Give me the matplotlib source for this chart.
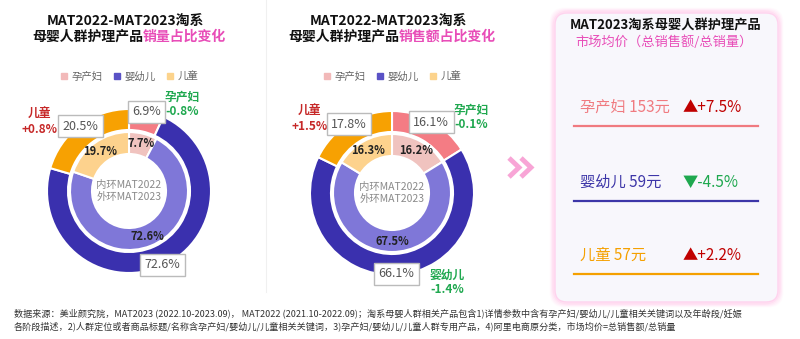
import numpy as np
import matplotlib
matplotlib.use("Agg")
import matplotlib.pyplot as plt
from matplotlib.patches import FancyBboxPatch
from matplotlib.lines import Line2D

plt.rcParams['font.family'] = ['Noto Sans CJK SC', 'DejaVu Sans']

# ---- data ----
segments = ["孕产妇", "婴幼儿", "儿童"]
vol_2022 = [7.7, 72.6, 19.7]     # inner ring, 销量占比
vol_2023 = [6.9, 72.6, 20.5]     # outer ring
vol_change = ["-0.8%", None, "+0.8%"]
amt_2022 = [16.2, 67.5, 16.3]    # inner ring, 销售额占比
amt_2023 = [16.1, 66.1, 17.8]    # outer ring
amt_change = ["-0.1%", "-1.4%", "+1.5%"]
avg_price = [153, 59, 57]        # 元
price_change = [7.5, -4.5, 2.2]  # %

# ---- colours ----
outer_colors = ["#F47C84", "#3A30AE", "#F7A102"]
inner_colors = ["#F0C3BF", "#7F77D8", "#FDD28D"]
legend_colors = ["#F2B9B9", "#5A52C6", "#FCD38C"]
row_colors = ["#F07A80", "#3D36A8", "#F5A000"]
PINK = "#E84DB8"
RED = "#C62828"
GREEN = "#1FA84F"

W, H = 800, 339
fig = plt.figure(figsize=(W / 100, H / 100), dpi=100)
fig.patch.set_facecolor("white")

# overlay axes in pixel units (y down)
lay = fig.add_axes([0, 0, 1, 1])
lay.set_xlim(0, W)
lay.set_ylim(H, 0)
lay.axis("off")
renderer = fig.canvas.get_renderer()


def centered_parts(x, y, parts, **kw):
    texts = [lay.text(0, y, s, color=c, ha="left", va="center", **kw) for s, c in parts]
    widths = [t.get_window_extent(renderer).width for t in texts]
    x0 = x - sum(widths) / 2
    for t, w in zip(texts, widths):
        t.set_x(x0)
        x0 += w


def donut(cx, cy, inner, outer, changes, change_pos, title_pink):
    half = 115
    ax = fig.add_axes([(cx - half) / W, (H - cy - half) / H, 2 * half / W, 2 * half / H])
    wo, _ = ax.pie(outer, radius=82, colors=outer_colors, startangle=90, counterclock=False,
                   wedgeprops=dict(width=21, edgecolor="white", linewidth=1.5))
    wi, _ = ax.pie(inner, radius=59, colors=inner_colors, startangle=90, counterclock=False,
                   wedgeprops=dict(width=22, edgecolor="white", linewidth=1.5))
    ax.set_xlim(-half, half)
    ax.set_ylim(-half, half)
    ax.set_aspect("equal")
    ax.axis("off")

    for w, v in zip(wo, outer):
        a = np.deg2rad((w.theta1 + w.theta2) / 2)
        ax.text(81 * np.cos(a), 81 * np.sin(a), f"{v}%", ha="center", va="center",
                fontsize=9, color="#555555", zorder=5,
                bbox=dict(boxstyle="square,pad=0.35", fc="white", ec="#BBBBBB", lw=1))
    for w, v in zip(wi, inner):
        a = np.deg2rad((w.theta1 + w.theta2) / 2)
        ax.text(49 * np.cos(a), 49 * np.sin(a), f"{v}%", ha="center", va="center",
                fontsize=8, fontweight="bold", color="#222222")

    ax.text(0, 0, "内环MAT2022\n外环MAT2023", ha="center", va="center",
            fontsize=7.5, color="#8A8A8A", linespacing=1.25)

    for name, ch, pos in zip(segments, changes, change_pos):
        if ch is None:
            continue
        col = RED if ch.startswith("+") else GREEN
        ax.text(pos[0], pos[1], f"{name}\n{ch}", ha="center", va="center",
                fontsize=8.5, fontweight="bold", color=col, linespacing=1.15)

    # titles
    centered_parts(cx - 4, 22, [("MAT2022-MAT2023淘系", "#111111")], fontsize=10, fontweight="bold")
    centered_parts(cx, 37, [("母婴人群护理产品", "#111111"), (title_pink, PINK)],
                   fontsize=10, fontweight="bold")

    handles = [Line2D([], [], marker="s", ls="none", markersize=4, color=c) for c in legend_colors]
    ax.legend(handles, segments, loc="center", bbox_to_anchor=(cx / W, 1 - 77 / H),
              bbox_transform=fig.transFigure, ncol=3, frameon=False, fontsize=7.5,
              labelcolor="#666666", handletextpad=0.3, columnspacing=1.0, handlelength=0.8)


donut(129, 191, vol_2022, vol_2023, vol_change,
      [(53, 87), None, (-90, 69)], "销量占比变化")
donut(392, 193, amt_2022, amt_2023, amt_change,
      [(79, 76), (55, -89), (-82, 74)], "销售额占比变化")

# divider between the two donuts
lay.plot([266, 266], [0, 292], color="#F0F0F0", lw=0.8)

# chevrons
for x0 in (509, 521):
    lay.plot([x0, x0 + 10, x0], [158, 167.5, 177], color="#F8A5D6", lw=3.5,
             solid_capstyle="butt", solid_joinstyle="miter")

# price panel with soft pink glow
bx, by, bw, bh = 555, 13, 223, 289
for i, a in enumerate([0.05, 0.08, 0.12, 0.2]):
    g = 4 - i
    lay.add_patch(FancyBboxPatch((bx - g, by - g), bw + 2 * g, bh + 2 * g,
                                 boxstyle="round,pad=0,rounding_size=14",
                                 fc="none", ec="#FF9AD8", lw=2, alpha=a))
lay.add_patch(FancyBboxPatch((bx, by), bw, bh, boxstyle="round,pad=0,rounding_size=12",
                             fc="#F8F7FC", ec="#FFD3EE", lw=1))

centered_parts(666, 25, [("MAT2023淘系母婴人群护理产品", "#111111")], fontsize=9.5, fontweight="bold")
centered_parts(664, 42, [("市场均价（总销售额/总销量）", PINK)], fontsize=9.5)

row_y = [107, 182, 255]
for name, price, chg, col, y in zip(segments, avg_price, price_change, row_colors, row_y):
    lay.text(580, y, f"{name} {price}元", ha="left", va="center", fontsize=11, color=col)
    mark = "▲" if chg > 0 else "▼"
    ccol = "#C00000" if chg > 0 else GREEN
    lay.text(683, y, f"{mark}{chg:+.1f}%", ha="left", va="center", fontsize=11, color=ccol)
    lay.plot([574, 758], [y + 19, y + 19], color=col, lw=1.6)

# footnote
note = ("数据来源：美业颜究院，MAT2023 (2022.10-2023.09)， MAT2022 (2021.10-2022.09)；"
        "淘系母婴人群相关产品包含1)详情参数中含有孕产妇/婴幼儿/儿童相关关键词以及年龄段/妊娠\n"
        "各阶段描述，2)人群定位或者商品标题/名称含孕产妇/婴幼儿/儿童相关关键词，"
        "3)孕产妇/婴幼儿/儿童人群专用产品，4)阿里电商原分类，市场均价=总销售额/总销量")
lay.text(14, 320, note, ha="left", va="center", fontsize=6.55, color="#333333", linespacing=1.35)

fig.savefig("out.png", dpi=100)
